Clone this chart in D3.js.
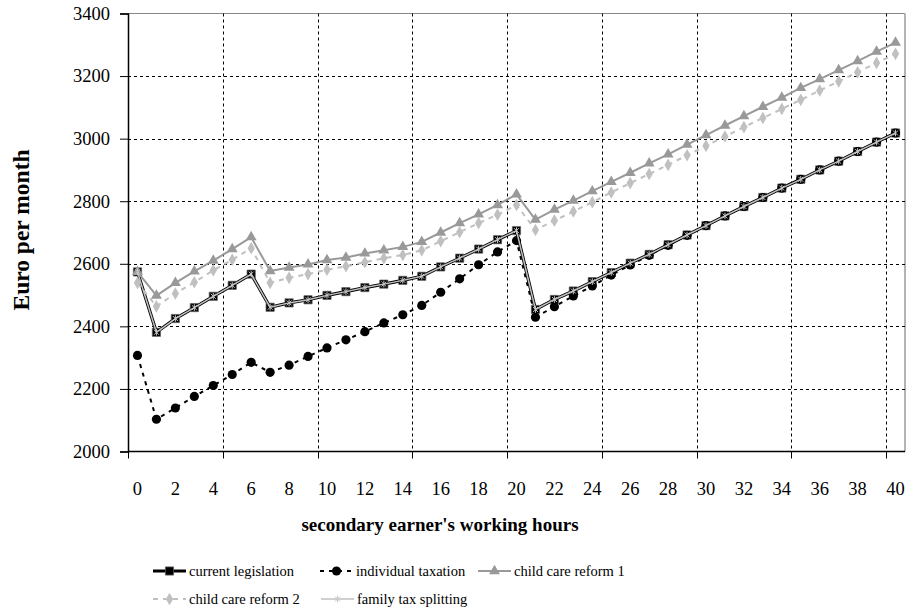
<!DOCTYPE html>
<html>
<head>
<meta charset="utf-8">
<script src="https://cdn.jsdelivr.net/npm/d3@7"></script>
<style>
  html, body { margin: 0; padding: 0; background: #fff; }
  svg { display: block; font-family: "Liberation Serif", "Times New Roman", serif; }
</style>
</head>
<body>
<svg id="chart" width="907" height="616"></svg>
<script>
// ---------- data ----------
const hours = d3.range(0, 41);
const yTicks = [2000, 2200, 2400, 2600, 2800, 3000, 3200, 3400];
const xTickLabels = d3.range(0, 41, 2);

const currentLegislation = [2574, 2381, 2425, 2460, 2496, 2531, 2567, 2461, 2475, 2485,
  2499, 2511, 2524, 2535, 2547, 2560, 2590, 2618, 2647, 2677,
  2706, 2454, 2486, 2513, 2543, 2572, 2602, 2630, 2661, 2692,
  2722, 2753, 2783, 2812, 2842, 2870, 2900, 2928, 2959, 2989, 3018];

const individualTaxation = [2307, 2103, 2139, 2176, 2211, 2246, 2285, 2253, 2276, 2304,
  2331, 2357, 2383, 2411, 2437, 2467, 2509, 2552, 2597, 2638,
  2674, 2429, 2463, 2497, 2529, 2564, 2596, 2627, 2659, 2691,
  2722, 2753, 2783, 2812, 2842, 2870, 2900, 2928, 2959, 2989, 3018];

const childCareReform1 = [2574, 2498, 2539, 2576, 2610, 2647, 2685, 2577, 2588, 2598,
  2612, 2620, 2633, 2643, 2654, 2670, 2700, 2730, 2758, 2788,
  2822, 2741, 2773, 2802, 2832, 2862, 2891, 2921, 2950, 2981,
  3011, 3042, 3072, 3102, 3131, 3162, 3190, 3219, 3248, 3278, 3307];

const childCareReform2 = [2539, 2464, 2505, 2541, 2579, 2613, 2650, 2539, 2555, 2567,
  2581, 2592, 2605, 2618, 2628, 2643, 2672, 2701, 2730, 2757,
  2788, 2708, 2738, 2767, 2797, 2828, 2858, 2887, 2916, 2947,
  2977, 3007, 3037, 3066, 3095, 3124, 3154, 3183, 3212, 3242, 3271];

const familyTaxSplitting = [2574, 2381, 2425, 2460, 2496, 2531, 2567, 2461, 2475, 2485,
  2499, 2511, 2524, 2535, 2547, 2560, 2590, 2618, 2647, 2677,
  2706, 2454, 2486, 2513, 2543, 2572, 2602, 2630, 2661, 2692,
  2722, 2753, 2783, 2812, 2842, 2870, 2900, 2928, 2959, 2989, 3018];

const seriesNames = ["current legislation", "individual taxation", "child care reform 1",
  "child care reform 2", "family tax splitting"];

// ---------- styles ----------
const starSymbol = {
  draw(ctx, size) {
    const r = Math.sqrt(size) / 2;
    ctx.moveTo(0, -r); ctx.lineTo(0, r);
    ctx.moveTo(-r * 0.75, -r * 0.75); ctx.lineTo(r * 0.75, r * 0.75);
    ctx.moveTo(-r * 0.75, r * 0.75); ctx.lineTo(r * 0.75, -r * 0.75);
  }
};

const styles = [
  { values: currentLegislation, color: "#000", width: 3.2, dash: null,
    symbol: d3.symbolSquare, size: 68, fill: "#000", stroke: "#666", sw: 0.7 },
  { values: individualTaxation, color: "#000", width: 2, dash: "4,5",
    symbol: d3.symbolCircle, size: 66, fill: "#000", stroke: "none", sw: 0 },
  { values: childCareReform1, color: "#999", width: 2, dash: null,
    symbol: d3.symbolTriangle, size: 52, fill: "#999", stroke: "none", sw: 0 },
  { values: childCareReform2, color: "#c0c0c0", width: 2, dash: "5,5",
    symbol: d3.symbolDiamond, size: 46, fill: "#c0c0c0", stroke: "none", sw: 0 },
  { values: familyTaxSplitting, color: "#c0c0c0", width: 1.5, dash: null,
    symbol: starSymbol, size: 44, fill: "none", stroke: "#c8c8c8", sw: 1 }
];

// ---------- layout ----------
const svg = d3.select("#chart");
const plotL = 128, plotR = 905, plotT = 13.5, plotB = 451.5;

const x = d3.scaleBand().domain(hours).range([plotL, plotR]).paddingInner(0).paddingOuter(0);
const xc = h => x(h) + x.bandwidth() / 2;
const y = d3.scaleLinear().domain([2000, 3400]).range([plotB, plotT]);

// plot border (top + right)
svg.append("line").attr("x1", plotL).attr("x2", plotR).attr("y1", plotT).attr("y2", plotT)
  .attr("stroke", "#888").attr("stroke-width", 1);
svg.append("line").attr("x1", plotR).attr("x2", plotR).attr("y1", plotT).attr("y2", plotB)
  .attr("stroke", "#b4b4b4").attr("stroke-width", 2);

// horizontal gridlines
const boundaries = d3.range(5, 41, 5);
svg.append("g").selectAll("line").data(yTicks.filter(t => t > 2000 && t < 3400)).join("line")
  .attr("x1", plotL).attr("x2", plotR)
  .attr("y1", d => Math.round(y(d)) + 0.5).attr("y2", d => Math.round(y(d)) + 0.5)
  .attr("stroke", "#000").attr("stroke-width", 1).attr("stroke-dasharray", "3,3");

// vertical gridlines at category boundaries every 5 hours
svg.append("g").selectAll("line").data(boundaries).join("line")
  .attr("x1", d => Math.round(x(d)) + 0.5).attr("x2", d => Math.round(x(d)) + 0.5)
  .attr("y1", plotT).attr("y2", plotB)
  .attr("stroke", "#000").attr("stroke-width", 1).attr("stroke-dasharray", "3,3");

// y axis
const yAxis = svg.append("g").attr("transform", `translate(${plotL},0)`)
  .call(d3.axisLeft(y).tickValues(yTicks).tickSize(8).tickPadding(10).tickFormat(d3.format("d")));
yAxis.select(".domain").attr("stroke", "#000").attr("stroke-width", 1.5);
yAxis.selectAll(".tick line").attr("stroke", "#000");
yAxis.selectAll("text").attr("font-size", "18.5px").attr("fill", "#000")
  .attr("font-family", "Liberation Serif, serif");

// x axis labels
const xAxis = svg.append("g").attr("transform", `translate(0,${plotB})`)
  .call(d3.axisBottom(x).tickValues(xTickLabels).tickSize(0).tickPadding(30));
xAxis.select(".domain").remove();
xAxis.selectAll("text").attr("font-size", "18.5px").attr("fill", "#000")
  .attr("font-family", "Liberation Serif, serif");

// x axis line and tick marks at boundaries
svg.append("line").attr("x1", plotL).attr("x2", plotR).attr("y1", plotB).attr("y2", plotB)
  .attr("stroke", "#000").attr("stroke-width", 1.5);
svg.append("g").selectAll("line").data([0].concat(boundaries)).join("line")
  .attr("x1", d => Math.round(x(d)) + 0.5).attr("x2", d => Math.round(x(d)) + 0.5)
  .attr("y1", plotB).attr("y2", plotB + 7)
  .attr("stroke", "#000").attr("stroke-width", 1);

// series
const line = d3.line().x((d, i) => xc(hours[i])).y(d => y(d));
styles.forEach(s => {
  const g = svg.append("g");
  g.append("path").datum(s.values).attr("d", line)
    .attr("fill", "none").attr("stroke", s.color).attr("stroke-width", s.width)
    .attr("stroke-dasharray", s.dash).attr("stroke-linejoin", "round");
  g.selectAll("path.m").data(s.values).join("path").attr("class", "m")
    .attr("transform", (d, i) => `translate(${xc(hours[i])},${y(d)})`)
    .attr("d", d3.symbol().type(s.symbol).size(s.size))
    .attr("fill", s.fill).attr("stroke", s.stroke).attr("stroke-width", s.sw);
});

// axis titles
svg.append("text").attr("x", 440).attr("y", 531).attr("text-anchor", "middle")
  .attr("font-size", "19px").attr("font-weight", "bold").text("secondary earner's working hours");
svg.append("text").attr("transform", "translate(29,230) rotate(-90)").attr("text-anchor", "middle")
  .attr("font-size", "23.5px").attr("font-weight", "bold").text("Euro per month");

// legend
const legendPos = [
  { lx: 153, ly: 571 }, { lx: 320, ly: 571 }, { lx: 478, ly: 571 },
  { lx: 153, ly: 599 }, { lx: 321, ly: 599 }
];
styles.forEach((s, k) => {
  const p = legendPos[k];
  const g = svg.append("g").attr("transform", `translate(${p.lx},${p.ly})`);
  g.append("line").attr("x1", 0).attr("x2", 33).attr("y1", 0).attr("y2", 0)
    .attr("stroke", s.color).attr("stroke-width", s.width).attr("stroke-dasharray", s.dash);
  g.append("path").attr("transform", "translate(16.5,0)")
    .attr("d", d3.symbol().type(s.symbol).size(s.size))
    .attr("fill", s.fill).attr("stroke", s.stroke).attr("stroke-width", s.sw);
  g.append("text").attr("x", 36).attr("y", 5).attr("font-size", "14.5px").attr("fill", "#000")
    .text(seriesNames[k]);
});
</script>
</body>
</html>
